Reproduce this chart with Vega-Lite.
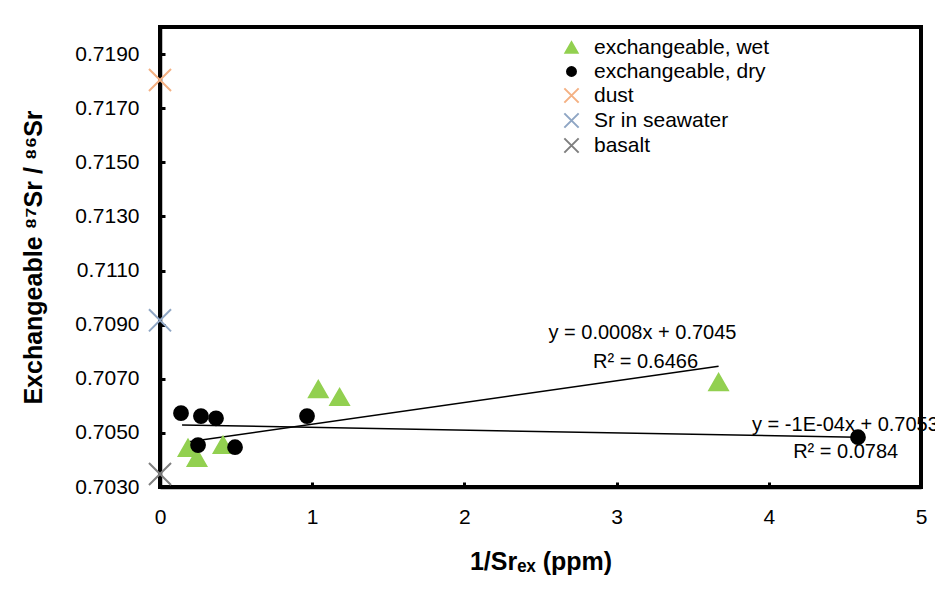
{
  "$schema": "https://vega.github.io/schema/vega-lite/v6.json",
  "width": 761,
  "height": 460,
  "autosize": {"type": "none"},
  "padding": {"left": 160, "top": 27, "right": 14, "bottom": 112},
  "background": "white",
  "config": {
    "font": "Liberation Sans",
    "view": {"stroke": "black", "strokeWidth": 4},
    "axis": {
      "grid": false,
      "domainColor": "black",
      "domainWidth": 3.5,
      "tickColor": "black",
      "tickWidth": 3,
      "tickSize": -5,
      "labelColor": "black",
      "labelFont": "Liberation Sans",
      "labelFontSize": 21,
      "labelFlush": false,
      "titleColor": "black",
      "titleFont": "Liberation Sans",
      "titleFontSize": 25,
      "titleFontWeight": "bold"
    },
    "legend": {
      "orient": "none",
      "legendX": 401,
      "legendY": 10,
      "labelFont": "Liberation Sans",
      "labelFontSize": 21,
      "labelColor": "black",
      "labelLimit": 400,
      "symbolSize": 80,
      "symbolStrokeWidth": 2,
      "rowPadding": 2,
      "labelOffset": 12,
      "padding": 0
    }
  },
  "datasets": {
    "points": [
      {"x": 0.184, "y": 0.70444, "series": "exchangeable, wet"},
      {"x": 0.243, "y": 0.70407, "series": "exchangeable, wet"},
      {"x": 0.414, "y": 0.70455, "series": "exchangeable, wet"},
      {"x": 1.04, "y": 0.70661, "series": "exchangeable, wet"},
      {"x": 1.18, "y": 0.70632, "series": "exchangeable, wet"},
      {"x": 3.67, "y": 0.70687, "series": "exchangeable, wet"},
      {"x": 0.138, "y": 0.70573, "series": "exchangeable, dry"},
      {"x": 0.269, "y": 0.70562, "series": "exchangeable, dry"},
      {"x": 0.368, "y": 0.70554, "series": "exchangeable, dry"},
      {"x": 0.25, "y": 0.70455, "series": "exchangeable, dry"},
      {"x": 0.493, "y": 0.70447, "series": "exchangeable, dry"},
      {"x": 0.966, "y": 0.70562, "series": "exchangeable, dry"},
      {"x": 4.586, "y": 0.70484, "series": "exchangeable, dry"},
      {"x": 0, "y": 0.71804, "series": "dust"},
      {"x": 0, "y": 0.70916, "series": "Sr in seawater"},
      {"x": 0, "y": 0.70348, "series": "basalt"}
    ],
    "trend": [
      {"x": 0.19, "y": 0.70467, "line": "wet"},
      {"x": 3.67, "y": 0.70746, "line": "wet"},
      {"x": 0.145, "y": 0.70529, "line": "dry"},
      {"x": 4.586, "y": 0.70484, "line": "dry"}
    ],
    "labelsCenter": [
      {"x": 3.17, "y": 0.70868, "text": "y = 0.0008x + 0.7045"},
      {"x": 3.19, "y": 0.70761, "text": "R² = 0.6466"}
    ],
    "labelsLeft": [
      {"x": 3.89, "y": 0.70529, "text": "y = -1E-04x + 0.7053"},
      {"x": 4.16, "y": 0.70429, "text": "R² = 0.0784"}
    ]
  },
  "encoding": {
    "x": {
      "field": "x",
      "type": "quantitative",
      "scale": {"domain": [0, 5], "nice": false, "zero": false},
      "axis": {
        "values": [0, 1, 2, 3, 4, 5],
        "format": "d",
        "labelPadding": 24,
        "title": "1/Srₑₓ (ppm)",
        "titlePadding": 22
      }
    },
    "y": {
      "field": "y",
      "type": "quantitative",
      "scale": {"domain": [0.703, 0.72], "nice": false, "zero": false},
      "axis": {
        "values": [0.703, 0.705, 0.707, 0.709, 0.711, 0.713, 0.715, 0.717, 0.719],
        "format": ".4f",
        "labelPadding": 26,
        "title": "Exchangeable ⁸⁷Sr / ⁸⁶Sr",
        "titlePadding": 28
      }
    }
  },
  "layer": [
    {
      "data": {"name": "trend"},
      "mark": {"type": "line", "color": "black", "strokeWidth": 1.5},
      "encoding": {"detail": {"field": "line"}}
    },
    {
      "data": {"name": "points"},
      "mark": {"type": "point", "strokeWidth": 2, "opacity": 1, "size": 190},
      "encoding": {
        "shape": {
          "field": "series",
          "type": "nominal",
          "scale": {
            "domain": ["exchangeable, wet", "exchangeable, dry", "dust", "Sr in seawater", "basalt"],
            "range": ["M0,-1.2L1.35,1.15L-1.35,1.15Z", "circle", "M-1.6,-1.6L1.6,1.6M-1.6,1.6L1.6,-1.6", "M-1.6,-1.6L1.6,1.6M-1.6,1.6L1.6,-1.6", "M-1.6,-1.6L1.6,1.6M-1.6,1.6L1.6,-1.6"]
          },
          "legend": {"title": null}
        },
        "stroke": {
          "field": "series",
          "type": "nominal",
          "scale": {
            "domain": ["exchangeable, wet", "exchangeable, dry", "dust", "Sr in seawater", "basalt"],
            "range": ["#92D050", "#000000", "#F4B183", "#8FA6C4", "#7F7F7F"]
          },
          "legend": {"title": null}
        },
        "fill": {
          "field": "series",
          "type": "nominal",
          "scale": {
            "domain": ["exchangeable, wet", "exchangeable, dry", "dust", "Sr in seawater", "basalt"],
            "range": ["#92D050", "#000000", "transparent", "transparent", "transparent"]
          },
          "legend": {"title": null}
        }
      }
    },
    {
      "data": {"name": "labelsCenter"},
      "mark": {"type": "text", "font": "Liberation Sans", "fontSize": 20, "color": "black", "align": "center", "baseline": "middle"},
      "encoding": {"text": {"field": "text"}}
    },
    {
      "data": {"name": "labelsLeft"},
      "mark": {"type": "text", "font": "Liberation Sans", "fontSize": 20, "color": "black", "align": "left", "baseline": "middle"},
      "encoding": {"text": {"field": "text"}}
    }
  ]
}
